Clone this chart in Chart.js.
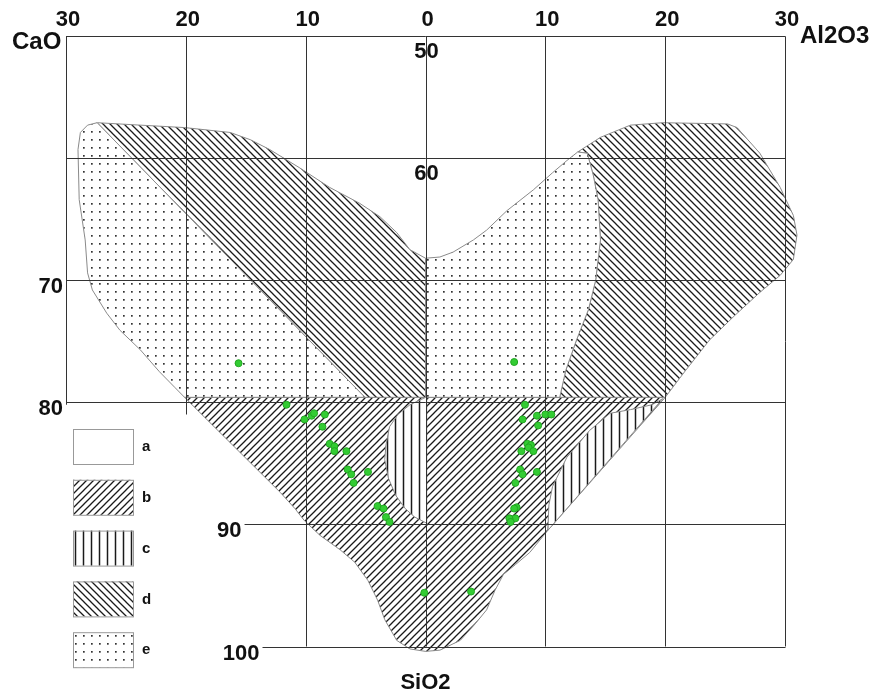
<!DOCTYPE html>
<html>
<head>
<meta charset="utf-8">
<script src="https://cdn.jsdelivr.net/npm/chart.js@4.4.0/dist/chart.umd.min.js"></script>
<style>
  html, body { margin: 0; padding: 0; background: #fff; }
</style>
</head>
<body>
<canvas id="myChart" width="871" height="695"></canvas>
<script>
// tick values: x is CaO (left, negative) / Al2O3 (right, positive), y is SiO2
var xTicks = [-30, -20, -10, 0, 10, 20, 30];
var yTicks = [50, 60, 70, 80, 90, 100];
var legendKeys = ['a', 'b', 'c', 'd', 'e'];

// analysed samples [x, SiO2]
var samples = [
  [-15.6, 76.8], [7.4, 76.7],
  [-11.6, 80.2], [-10.1, 81.4], [-9.5, 81.1], [-9.3, 80.9], [-8.4, 81.0], [-8.6, 82.0],
  [-8.0, 83.4], [-7.6, 83.6], [-7.6, 84.0], [-6.6, 84.0], [-6.5, 85.5], [-6.2, 85.9],
  [-4.8, 85.7], [-6.0, 86.6], [-4.0, 88.5], [-3.5, 88.7], [-3.3, 89.4], [-3.0, 89.8],
  [-0.1, 95.6], [3.8, 95.5],
  [8.3, 80.2], [8.1, 81.4], [9.3, 81.1], [10.0, 81.0], [10.5, 81.0], [9.4, 81.9],
  [8.5, 83.4], [8.8, 83.5], [8.6, 83.7], [8.0, 84.0], [9.0, 84.0], [7.9, 85.5],
  [8.1, 85.9], [9.3, 85.7], [7.5, 86.6], [7.6, 88.6], [7.4, 88.7], [7.5, 89.5],
  [7.0, 89.5], [7.1, 89.8]
];

// field outlines [x, SiO2]
var fieldB = [
  [-20.1, 79.6], [20.0, 79.6], [10.2, 90.5], [8.7, 92.3], [7.5, 93.3], [6.5, 94.1],
  [5.8, 95.4], [5.1, 97.0], [4.1, 98.2], [2.9, 99.5], [1.2, 100.3], [0, 100.4],
  [-1.3, 100.2], [-2.4, 99.5], [-3.4, 97.8], [-4.0, 96.2], [-4.8, 94.6], [-5.9, 93.1],
  [-7.1, 92.1], [-8.8, 90.9], [-10.1, 89.7], [-10.9, 88.7], [-12.1, 87.4]
];
var fieldC1 = [
  [0, 79.6], [-1.3, 80.2], [-2.3, 81.0], [-3.0, 82.0], [-3.3, 83.5], [-3.4, 84.7],
  [-3.1, 86.2], [-2.5, 87.6], [-1.7, 88.7], [-0.9, 89.4], [0.1, 89.9], [0.1, 79.6]
];
var fieldC2 = [
  [19.8, 79.7], [18.9, 80.2], [17.1, 80.6], [15.4, 80.9], [13.7, 82.3], [11.8, 84.5],
  [10.6, 86.9], [10.3, 88.4], [10.2, 90.5]
];
var fieldD1 = [
  [-27.4, 57.1], [-23.8, 57.3], [-20.1, 57.5], [-16.3, 57.9], [-14.6, 58.5], [-13.0, 59.3],
  [-10.5, 60.8], [-8.0, 62.4], [-5.5, 63.7], [-3.8, 64.8], [-2.4, 66.1], [-1.3, 67.5],
  [0, 68.2], [0, 79.6], [-5.05, 79.6]
];
var fieldD2 = [
  [12.7, 59.5], [14.6, 58.3], [17.1, 57.3], [19.8, 57.1], [25.2, 57.2], [26.0, 57.5],
  [27.9, 59.6], [29.6, 62.4], [30.7, 64.7], [31.0, 66.3], [30.7, 68.3], [29.6, 69.6],
  [27.9, 71.0], [25.8, 72.9], [23.7, 74.9], [21.7, 77.4], [20.0, 79.6], [11.2, 79.6],
  [11.7, 77.4], [12.6, 74.9], [13.6, 72.4], [14.2, 70.0], [14.6, 66.7], [14.4, 63.4],
  [14.0, 61.4], [13.5, 59.6]
];
var fieldE1 = [
  [-27.4, 57.1], [-28.2, 57.3], [-28.8, 57.9], [-29.0, 59.3], [-28.9, 63.4], [-28.4, 66.7],
  [-28.2, 69.4], [-27.8, 70.8], [-26.6, 72.7], [-25.5, 74.1], [-23.8, 75.7], [-22.2, 77.5],
  [-20.9, 78.8], [-20.1, 79.6], [-5.05, 79.6]
];
var fieldE2 = [
  [0, 68.2], [1.2, 68.1], [2.3, 67.7], [4.0, 66.7], [5.1, 65.9], [6.8, 64.3], [9.0, 62.6],
  [10.6, 61.2], [11.8, 60.2], [12.7, 59.5], [13.5, 59.6], [14.0, 61.4], [14.4, 63.4],
  [14.6, 66.7], [14.2, 70.0], [13.6, 72.4], [12.6, 74.9], [11.7, 77.4], [11.2, 79.6],
  [0, 79.6]
];

function makePattern(kind) {
  var c = document.createElement('canvas');
  var s = kind === 'c' ? 8 : (kind === 'e' ? 8 : 7);
  c.width = s; c.height = s;
  var g = c.getContext('2d');
  g.fillStyle = '#fff';
  g.fillRect(0, 0, s, s);
  g.strokeStyle = '#1a1a1a';
  g.fillStyle = '#333';
  g.lineWidth = 1.3;
  g.beginPath();
  if (kind === 'b') {
    g.moveTo(-1, s + 1); g.lineTo(s + 1, -1);
    g.moveTo(-1, 1); g.lineTo(1, -1);
    g.moveTo(s - 1, s + 1); g.lineTo(s + 1, s - 1);
  } else if (kind === 'd') {
    g.moveTo(-1, -1); g.lineTo(s + 1, s + 1);
    g.moveTo(s - 1, -1); g.lineTo(s + 1, 1);
    g.moveTo(-1, s - 1); g.lineTo(1, s + 1);
  } else if (kind === 'c') {
    g.lineWidth = 1.5;
    g.moveTo(3.5, 0); g.lineTo(3.5, s);
  }
  g.stroke();
  if (kind === 'e') {
    g.fillRect(3, 3, 1.7, 1.7);
  }
  return g.createPattern(c, 'repeat');
}

var fills = {
  a: '#ffffff',
  b: makePattern('b'),
  c: makePattern('c'),
  d: makePattern('d'),
  e: makePattern('e')
};

function toXY(list) {
  return list.map(function (p) { return { x: p[0], y: p[1] }; });
}

function field(list, key) {
  var pts = toXY(list);
  pts.push(pts[0]);
  return {
    data: pts,
    showLine: true,
    fill: 'shape',
    backgroundColor: fills[key],
    borderColor: '#8a8a8a',
    borderWidth: 1,
    pointRadius: 0,
    tension: 0,
    clip: false
  };
}

var font = '"Liberation Sans", Arial, sans-serif';

var frame = {
  id: 'frame',
  beforeDatasetDraw: function (chart, args) {
    // grid goes over the fields but under the sample dots
    if (args.index !== 0) return;
    var ctx = chart.ctx, xs = chart.scales.x, ys = chart.scales.y;
    ctx.save();
    ctx.strokeStyle = '#333';
    ctx.lineWidth = 1;
    ctx.beginPath();
    xTicks.forEach(function (v) {
      var bottom = v === -30 ? 80.2 : (v === -20 ? 81 : 100);
      var px = Math.round(xs.getPixelForValue(v)) + 0.5;
      ctx.moveTo(px, Math.round(ys.getPixelForValue(50)) + 0.5);
      ctx.lineTo(px, ys.getPixelForValue(bottom));
    });
    yTicks.forEach(function (v) {
      var start = v === 90 ? -15.1 : (v === 100 ? -13.6 : -30);
      var py = Math.round(ys.getPixelForValue(v)) + 0.5;
      ctx.moveTo(xs.getPixelForValue(start), py);
      ctx.lineTo(Math.round(xs.getPixelForValue(30)) + 0.5, py);
    });
    ctx.stroke();
    ctx.restore();
  },
  afterDraw: function (chart) {
    var ctx = chart.ctx, xs = chart.scales.x, ys = chart.scales.y;
    ctx.save();
    ctx.fillStyle = '#111';
    ctx.textBaseline = 'middle';

    // top ticks, read as distance from the centre line
    ctx.font = 'bold 22px ' + font;
    ctx.textAlign = 'center';
    xTicks.forEach(function (v) {
      ctx.fillText(String(Math.abs(v)), xs.getPixelForValue(v) + 2, 20);
    });

    // SiO2 ticks
    yTicks.forEach(function (v) {
      var py = ys.getPixelForValue(v);
      if (v <= 60) {
        ctx.textAlign = 'center';
        ctx.fillText(String(v), xs.getPixelForValue(0) + 1, py + 16);
      } else {
        var start = v === 90 ? -15.1 : (v === 100 ? -13.6 : -30);
        ctx.textAlign = 'right';
        ctx.fillText(String(v), xs.getPixelForValue(start) - 3, py + 7);
      }
    });

    // axis names
    ctx.font = 'bold 24px ' + font;
    ctx.textAlign = 'left';
    ctx.fillText('CaO', 12, 42);
    ctx.fillText('Al2O3', 800, 36);
    ctx.font = 'bold 22px ' + font;
    ctx.textAlign = 'center';
    ctx.fillText('SiO2', xs.getPixelForValue(0), 683);

    // key
    ctx.font = 'bold 15px ' + font;
    ctx.textAlign = 'left';
    legendKeys.forEach(function (k, i) {
      var top = 429 + i * 50.8;
      ctx.fillStyle = fills[k];
      ctx.fillRect(73, top, 60, 35);
      ctx.strokeStyle = '#999';
      ctx.lineWidth = 1;
      ctx.strokeRect(73.5, top + 0.5, 60, 35);
      ctx.fillStyle = '#111';
      ctx.fillText(k, 142, top + 18);
    });
    ctx.restore();
  }
};

var ctx = document.getElementById('myChart').getContext('2d');
var chart = new Chart(ctx, {
  type: 'line',
  data: {
    datasets: [
      {
        data: toXY(samples),
        showLine: false,
        pointRadius: 3.5,
        pointBackgroundColor: '#33cc33',
        pointBorderColor: '#22a822',
        pointBorderWidth: 1
      },
      field(fieldC1, 'c'),
      field(fieldC2, 'c'),
      field(fieldB, 'b'),
      field(fieldE1, 'e'),
      field(fieldE2, 'e'),
      field(fieldD1, 'd'),
      field(fieldD2, 'd')
    ]
  },
  options: {
    responsive: false,
    animation: false,
    events: [],
    layout: { padding: { left: 42.04, right: 62.04, top: 36, bottom: 36.29 } },
    scales: {
      x: { type: 'linear', min: -32, max: 32, display: false },
      y: { type: 'linear', min: 50, max: 101, reverse: true, display: false }
    },
    plugins: {
      legend: { display: false },
      tooltip: { enabled: false }
    }
  },
  plugins: [frame]
});
</script>
</body>
</html>
